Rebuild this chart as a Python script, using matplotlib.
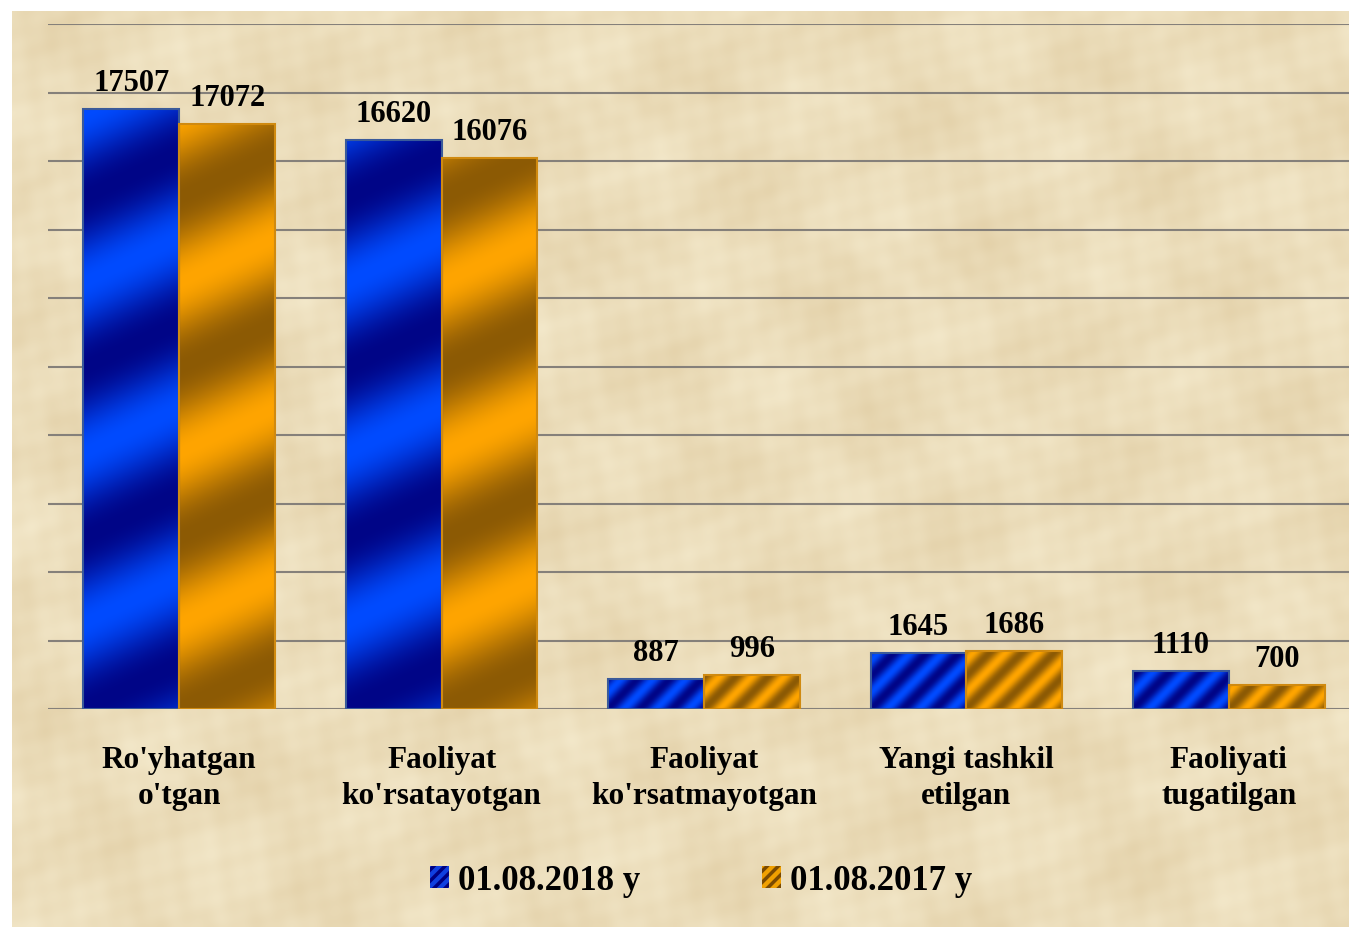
import numpy as np
import matplotlib
matplotlib.use("Agg")
import matplotlib.pyplot as plt
from matplotlib.patches import Patch

# chart data
categories = ["Ro'yhatgan\no'tgan", "Faoliyat\nko'rsatayotgan",
              "Faoliyat\nko'rsatmayotgan", "Yangi tashkil\netilgan",
              "Faoliyati\ntugatilgan"]
vals_2018 = [17507, 16620, 887, 1645, 1110]
vals_2017 = [17072, 16076, 996, 1686, 700]
series_labels = ["01.08.2018 y", "01.08.2017 y"]

W, H = 1349, 928
fig = plt.figure(figsize=(W / 100, H / 100), dpi=100)
fig.patch.set_facecolor("white")

# parchment-like background (decoration only)
bg = fig.add_axes([12 / W, 0, 1 - 12 / W, 1 - 12 / H])
gy, gx = np.mgrid[0:310, 0:450]
tex = (np.sin(gx * 0.071 + gy * 0.043) * np.sin(gy * 0.093 - gx * 0.021 + 1.3)
       + 0.6 * np.sin(gx * 0.23 + np.sin(gy * 0.11) * 2.0)
       * np.cos(gy * 0.19 + np.sin(gx * 0.05) * 3.0)
       + 0.4 * np.sin(gx * 0.51 + gy * 0.37) * np.sin(gx * 0.29 - gy * 0.47))
tex = (tex - tex.min()) / (tex.max() - tex.min())
light = np.array([243, 232, 202]) / 255
dark = np.array([224, 204, 162]) / 255
bg.imshow(light * (1 - tex[..., None] * 0.8) + dark * (tex[..., None] * 0.8),
          aspect="auto", interpolation="bicubic")
bg.axis("off")

ax = fig.add_axes([48 / W, (H - 710) / H, 1312 / W, 685 / H])
ax.patch.set_alpha(0)
ax.set_xlim(-0.5, 4.5)
ax.set_ylim(0, 20000)
ax.set_yticks(range(0, 20001, 2000))
ax.yaxis.grid(True, color="#85807a", lw=1.5)
ax.set_axisbelow(True)
for s in ax.spines.values():
    s.set_visible(False)
ax.tick_params(axis="y", length=0, labelleft=False)
ax.tick_params(axis="x", length=0, pad=26)

px_per_unit = 685 / 20000
bw = 0.365
bw_px = bw * 262


def grad_bar(x0, v, c_dark, c_light, edge):
    h_px = v * px_per_unit
    if h_px > 100:
        Py, Px = 170.0, 360.0
    else:
        Py, Px = 32.0, 32.0
    ny, nx = max(int(h_px), 2), int(bw_px)
    yy, xx = np.mgrid[0:ny, 0:nx]
    phase = yy / Py - xx / Px
    t = (0.5 - 0.5 * np.cos(2 * np.pi * phase)) ** 1.1
    img = np.array(c_dark) * (1 - t[..., None]) + np.array(c_light) * t[..., None]
    ax.imshow(img, extent=(x0, x0 + bw, 0, v), origin="lower",
              aspect="auto", zorder=2, interpolation="bilinear")
    ax.bar(x0, v, width=bw, align="edge", facecolor="none",
           edgecolor=edge, lw=1.5, zorder=3)


blue_dark = np.array([0, 5, 135]) / 255
blue_light = np.array([0, 75, 255]) / 255
or_dark = np.array([140, 90, 5]) / 255
or_light = np.array([255, 165, 0]) / 255

fnt = dict(family="Liberation Serif", weight="bold")
x = np.arange(len(categories))
for i in range(len(categories)):
    grad_bar(x[i] - bw, vals_2018[i], blue_dark, blue_light, "#3a5a9a")
    grad_bar(x[i], vals_2017[i], or_dark, or_light, "#d08a10")
    ax.annotate(str(vals_2018[i]), (x[i] - bw / 2, vals_2018[i]),
                xytext=(0, 13.7), textcoords="offset points",
                ha="center", va="baseline", fontsize=22, **fnt)
    ax.annotate(str(vals_2017[i]), (x[i] + bw / 2, vals_2017[i]),
                xytext=(0, 13.7), textcoords="offset points",
                ha="center", va="baseline", fontsize=22, **fnt)

ax.set_xticks(x)
ax.set_xticklabels(categories, fontsize=22.5, linespacing=1.3, **fnt)

plt.rcParams["hatch.linewidth"] = 2.5
handles = [Patch(facecolor="#1040e0", edgecolor="#000080", hatch="///", lw=0),
           Patch(facecolor="#f0a000", edgecolor="#7a4a00", hatch="///", lw=0)]
fig.legend(handles, series_labels, loc="center",
           bbox_to_anchor=(701 / W, 1 - 882 / H), ncol=2, frameon=False,
           prop=dict(size=25, **fnt), handlelength=0.55, handleheight=0.6,
           handletextpad=0.25, columnspacing=3.5)

fig.savefig("out.png", dpi=100)
